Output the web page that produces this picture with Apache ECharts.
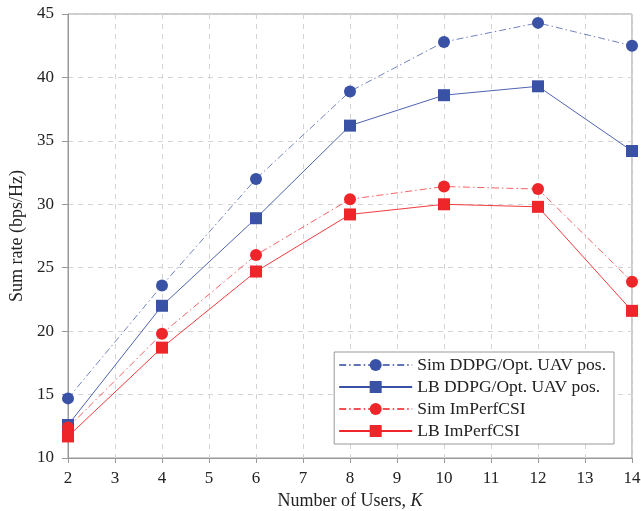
<!DOCTYPE html>
<html><head><meta charset="utf-8">
<script src="https://cdn.jsdelivr.net/npm/echarts@6/dist/echarts.min.js"></script>
<style>html,body{margin:0;padding:0;background:#fff}#c{width:641px;height:511px}</style>
</head><body><div id="c"></div>
<script>
const users = [2, 4, 6, 8, 10, 12, 14];
const simDDPG = [14.7, 23.6, 32.0, 38.9, 42.8, 44.3, 42.5];
const lbDDPG = [12.6, 22.0, 28.9, 36.2, 38.6, 39.3, 34.2];
const simImp = [12.4, 19.8, 26.0, 30.4, 31.4, 31.2, 23.9];
const lbImp = [11.7, 18.7, 24.7, 29.2, 30.0, 29.8, 21.6];
const names = ['Sim DDPG/Opt. UAV pos.', 'LB DDPG/Opt. UAV pos.', 'Sim ImPerfCSI', 'LB ImPerfCSI'];

const blue = '#3a52a6', red = '#ee2629';
const font = 'Liberation Serif';
function pts(arr){ return users.map((u,i)=>[u, arr[i]]); }
function ser(name, data, color, sym, dashed){
  return {
    name, type:'line', data: pts(data), symbol: sym, symbolSize: 12,
    itemStyle:{color}, lineStyle:{color, width:0.9, type: dashed ? [7,3,1.5,3] : 'solid', opacity: dashed?0.8:1},
    emphasis:{disabled:true}, z: 3
  };
}
const chart = echarts.init(document.getElementById('c'));
chart.setOption({
  animation:false,
  grid:{left:68, right:9, top:14, bottom:53, show:true, borderColor:'#999', borderWidth:1, containLabel:false, outerBoundsMode:'none'},
  xAxis:{type:'value', min:2, max:14, interval:1,
    name:'{a|Number of Users, }{b|K}', nameLocation:'middle', nameGap:31,
    nameTextStyle:{rich:{a:{fontFamily:font, fontSize:18, color:'#222'}, b:{fontFamily:font, fontSize:18, fontStyle:'italic', color:'#222'}}},
    axisLine:{show:true, lineStyle:{color:'#999'}}, axisTick:{show:true, inside:false, length:5, lineStyle:{color:'#999'}},
    axisLabel:{fontFamily:font, fontSize:17, color:'#222', margin:12},
    splitLine:{show:true, lineStyle:{color:'#d4d4d4', type:[5,5]}}
  },
  yAxis:{type:'value', min:10, max:45, interval:5,
    name:'Sum rate (bps/Hz)', nameLocation:'middle', nameGap:42, nameRotate:90, nameMoveOverlap:false,
    nameTextStyle:{fontFamily:font, fontSize:18, color:'#222'},
    axisLine:{show:true, lineStyle:{color:'#999'}}, axisTick:{show:true, inside:false, length:6, lineStyle:{color:'#999'}},
    axisLabel:{fontFamily:font, fontSize:17, color:'#222', margin:14},
    splitLine:{show:true, lineStyle:{color:'#d4d4d4', type:[5,5]}}
  },
  legend:{show:true, orient:'vertical', right:27, bottom:67, data:names,
    backgroundColor:'#fff', borderColor:'#999', borderWidth:1, padding:[4,8,4,4],
    itemWidth:73, itemHeight:15, itemGap:4,
    textStyle:{fontFamily:font, fontSize:17.5, lineHeight:18, color:'#222'}},
  series:[
    ser(names[0], simDDPG, blue, 'circle', true),
    ser(names[1], lbDDPG, blue, 'rect', false),
    ser(names[2], simImp, red, 'circle', true),
    ser(names[3], lbImp, red, 'rect', false)
  ]
});
</script></body></html>
